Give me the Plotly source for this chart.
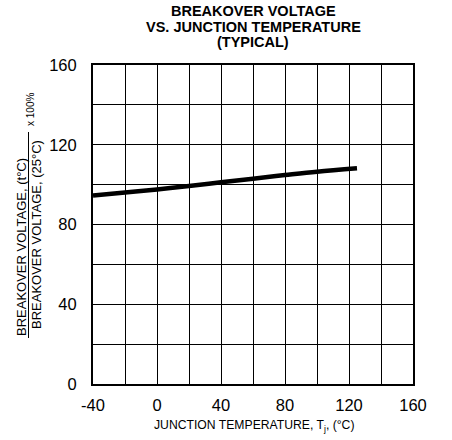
import plotly.graph_objects as go

temps = [-40, -20, 0, 20, 40, 60, 80, 100, 125]
ratio = [94.5, 96.0, 97.6, 99.3, 101.2, 103.0, 104.8, 106.5, 108.2]
x_ticks = [-40, 0, 40, 80, 120, 160]
y_ticks = [0, 40, 80, 120, 160]
title_lines = ["BREAKOVER VOLTAGE", "VS. JUNCTION TEMPERATURE", "(TYPICAL)"]

FONT = "Liberation Sans, Arial, sans-serif"
L, R, T, B = 93, 39, 65, 56
W, H = 452, 440
PW, PH = W - L - R, H - T - B

def px(xp):
    return (xp - L) / PW

def py(yp):
    return (H - B - yp) / PH

fig = go.Figure()
fig.add_trace(go.Scatter(x=temps, y=ratio, mode="lines",
                         line=dict(color="black", width=4.5, shape="spline"),
                         showlegend=False, hoverinfo="skip"))

axis_common = dict(showgrid=True, gridcolor="black", gridwidth=1,
                   showline=True, linecolor="black", linewidth=2, mirror=True,
                   ticks="", zeroline=False,
                   minor=dict(dtick=20, showgrid=True, gridcolor="black", gridwidth=1),
                   tickfont=dict(family=FONT, size=16.5, color="black"))

fig.update_xaxes(range=[-40, 160], tickvals=x_ticks, ticktext=[str(v) for v in x_ticks],
                 ticklabelstandoff=5, **axis_common)
fig.update_yaxes(range=[0, 160], tickvals=y_ticks, ticktext=[str(v) for v in y_ticks],
                 ticklabelstandoff=11, **axis_common)

ann = []
for line, yc in zip(title_lines, [11.5, 27, 42.5]):
    ann.append(dict(text="<b>" + line + "</b>",
                    xref="paper", yref="paper", x=px(253), y=py(yc), xanchor="center", yanchor="middle",
                    showarrow=False, font=dict(family=FONT, size=14.5, color="black")))
ann.append(dict(text="JUNCTION TEMPERATURE, T<sub>j</sub>, (°C)",
                xref="paper", yref="paper", x=px(254), y=py(426), xanchor="center", yanchor="middle",
                showarrow=False, font=dict(family=FONT, size=12.2, color="black")))
ann.append(dict(text="BREAKOVER VOLTAGE, (t°C)", textangle=-90,
                xref="paper", yref="paper", x=px(21), y=py(247), xanchor="center", yanchor="middle",
                showarrow=False, font=dict(family=FONT, size=13, color="black")))
ann.append(dict(text="BREAKOVER VOLTAGE, (25°C)", textangle=-90,
                xref="paper", yref="paper", x=px(36), y=py(235), xanchor="center", yanchor="middle",
                showarrow=False, font=dict(family=FONT, size=13, color="black")))
ann.append(dict(text="x 100%", textangle=-90,
                xref="paper", yref="paper", x=px(31), y=py(110), xanchor="center", yanchor="middle",
                showarrow=False, font=dict(family=FONT, size=10, color="black")))
fig.update_layout(annotations=ann)

fig.add_shape(type="line", xref="paper", yref="paper",
              x0=px(28.5), x1=px(28.5), y0=py(132), y1=py(338),
              line=dict(color="black", width=1))

fig.update_layout(width=W, height=H, margin=dict(l=L, r=R, t=T, b=B),
                  plot_bgcolor="white", paper_bgcolor="white")

fig.write_html("out.html", config={"displayModeBar": False},
               post_script="document.body.style.margin='0';document.body.style.overflow='hidden';")
